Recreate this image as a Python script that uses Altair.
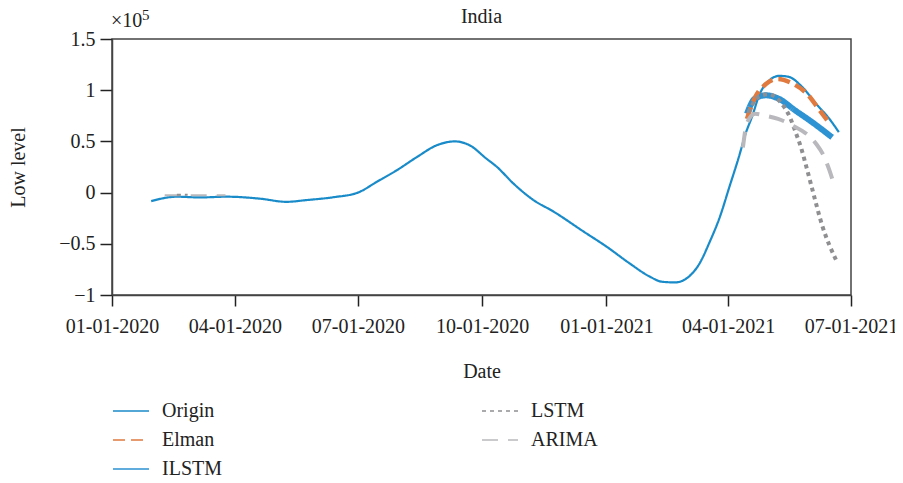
import altair as alt
import pandas as pd

# ---- data (values in raw units; axis shows ×10^5) ----
origin_dates = ["2020-01-30", "2020-02-18", "2020-03-06", "2020-03-26", "2020-04-20",
                "2020-05-09", "2020-05-24", "2020-06-13", "2020-07-01", "2020-07-15",
                "2020-07-30", "2020-08-14", "2020-08-28", "2020-09-11", "2020-09-22",
                "2020-10-04", "2020-10-12", "2020-10-24", "2020-11-08", "2020-11-23",
                "2020-12-15", "2021-01-01", "2021-01-18", "2021-02-02", "2021-02-11",
                "2021-02-21", "2021-03-03", "2021-03-11", "2021-03-18", "2021-03-26",
                "2021-04-02", "2021-04-09", "2021-04-14", "2021-04-19", "2021-04-24",
                "2021-05-01", "2021-05-09", "2021-05-16", "2021-05-26", "2021-06-05",
                "2021-06-15", "2021-06-22"]
origin_vals = [-8300, -4000, -4700, -4000, -6000,
               -9000, -7300, -4500, 0, 10500,
               22000, 35000, 46000, 50000, 46000,
               33300, 25000, 9000, -7300, -18700,
               -38000, -52700, -69000, -82000, -87000,
               -87700, -82000, -69000, -49400, -23500,
               5600, 34800, 57600, 75000, 95000,
               109000, 114000, 113000, 103000, 87000,
               72000, 59000]

elman_dates = ["2021-04-15", "2021-04-21", "2021-04-29", "2021-05-08", "2021-05-18",
               "2021-05-29", "2021-06-08", "2021-06-16"]
elman_vals = [72000, 93000, 106000, 111000, 107000, 97000, 80000, 66000]

ilstm_dates = ["2021-04-15", "2021-04-21", "2021-04-29", "2021-05-08", "2021-05-21",
               "2021-06-02", "2021-06-17"]
ilstm_vals = [77000, 92000, 95000, 92000, 80000, 69000, 54000]

lstm_early_dates = ["2020-02-18", "2020-02-26"]
lstm_early_vals = [-2000, -2000]
lstm_dates = ["2021-04-16", "2021-04-24", "2021-05-01", "2021-05-10", "2021-05-17",
              "2021-05-21", "2021-05-25", "2021-05-29", "2021-06-02", "2021-06-10",
              "2021-06-20"]
lstm_vals = [78000, 94000, 96000, 88000, 73000, 59000, 44000, 25000, 5000, -33500, -66000]

arima_early_dates = ["2020-02-09", "2020-03-25"]
arima_early_vals = [-2500, -2500]
arima_dates = ["2021-04-12", "2021-04-15", "2021-04-21", "2021-04-29", "2021-05-08",
               "2021-05-18", "2021-06-05", "2021-06-10", "2021-06-15", "2021-06-19"]
arima_vals = [44000, 68000, 77000, 75000, 72000, 66000, 48000, 38000, 22000, 5000]

series_order = ["Origin", "Elman", "ILSTM", "LSTM", "ARIMA"]
series_colors = ["#1a8bc9", "#e07a3f", "#2d93d2", "#8f8f92", "#b9b9bd"]
series_dash = [[1, 0], [12, 6], [1, 0], [4, 4], [16, 10]]

def frame(name, parts):
    rows = []
    for seg, (dates, vals) in enumerate(parts):
        for d, v in zip(dates, vals):
            rows.append({"name": name, "seg": f"{name}-{seg}", "date": d, "value": v})
    return pd.DataFrame(rows)

x_ticks = [alt.DateTime(year=y, month=m, date=1, utc=True)
           for (y, m) in [(2020, 1), (2020, 4), (2020, 7), (2020, 10), (2021, 1), (2021, 4), (2021, 7)]]
y_ticks = [-100000, -50000, 0, 50000, 100000, 150000]

FONT = "Liberation Serif"
PLOT_W, PLOT_H = 739, 256

legend_cfg = dict(title=None, orient="none", legendX=0, legendY=353,
                  columns=2, columnPadding=257, rowPadding=-10,
                  symbolType="stroke", symbolSize=1296,
                  symbolStrokeWidth=1.5, labelOffset=12,
                  labelFontSize=20, labelFont=FONT, labelColor="#222")

def enc():
    return dict(
        x=alt.X("date:T",
                scale=alt.Scale(type="utc",
                                domain=[alt.DateTime(year=2020, month=1, date=1, utc=True),
                                        alt.DateTime(year=2021, month=7, date=1, utc=True)]),
                axis=alt.Axis(values=x_ticks, labelExpr="utcFormat(datum.value, '%m-%d-%Y')",
                              title="Date", tickSize=11, labelPadding=10, titlePadding=25,
                              grid=False, labelFlush=False, labelOverlap=False)),
        y=alt.Y("value:Q",
                scale=alt.Scale(domain=[-100000, 150000], nice=False, zero=False),
                axis=alt.Axis(values=y_ticks,
                              labelExpr="replace(format(datum.value / 100000, ''), '-', '−')",
                              title="Low level", tickSize=12, labelPadding=5, titlePadding=30,
                              grid=False)),
        color=alt.Color("name:N", scale=alt.Scale(domain=series_order, range=series_colors),
                        legend=alt.Legend(**legend_cfg)),
        strokeDash=alt.StrokeDash("name:N", scale=alt.Scale(domain=series_order, range=series_dash),
                                  legend=alt.Legend(**legend_cfg)),
        detail="seg:N",
    )

def series_layer(df, width):
    return alt.Chart(df).mark_line(interpolate="monotone", strokeWidth=width).encode(**enc())

origin_l = series_layer(frame("Origin", [(origin_dates, origin_vals)]), 2.2)
ilstm_l = series_layer(frame("ILSTM", [(ilstm_dates, ilstm_vals)]), 6)
elman_l = series_layer(frame("Elman", [(elman_dates, elman_vals)]), 4.5)
lstm_early_l = series_layer(frame("LSTM", [(lstm_early_dates, lstm_early_vals)]), 2)
lstm_l = series_layer(frame("LSTM", [(lstm_dates, lstm_vals)]), 4)
arima_early_l = series_layer(frame("ARIMA", [(arima_early_dates, arima_early_vals)]), 2)
arima_l = series_layer(frame("ARIMA", [(arima_dates, arima_vals)]), 4)

title_txt = alt.Chart(pd.DataFrame({"t": ["India"]})).mark_text(
    align="center", baseline="alphabetic", font=FONT, fontSize=20, color="#222"
).encode(x=alt.value(PLOT_W / 2), y=alt.value(-16), text="t:N")
exp_base = alt.Chart(pd.DataFrame({"t": ["×10"]})).mark_text(
    align="left", baseline="alphabetic", font=FONT, fontSize=20, color="#222"
).encode(x=alt.value(-1), y=alt.value(-12), text="t:N")
exp_sup = alt.Chart(pd.DataFrame({"t": ["5"]})).mark_text(
    align="left", baseline="alphabetic", font=FONT, fontSize=15, color="#222"
).encode(x=alt.value(30), y=alt.value(-19), text="t:N")

chart = alt.layer(origin_l, arima_early_l, lstm_early_l, ilstm_l, elman_l, lstm_l, arima_l,
                  title_txt, exp_base, exp_sup).properties(
    width=PLOT_W, height=PLOT_H,
    autosize=alt.AutoSizeParams(type="none"),
    padding={"left": 104, "top": 31, "right": 44, "bottom": 182},
).configure_view(stroke="#444", strokeWidth=1.5).configure_axis(
    labelFont=FONT, titleFont=FONT, labelFontSize=20, titleFontSize=20,
    titleFontWeight="normal", labelColor="#222", titleColor="#222",
    domainColor="#444", domainWidth=1.5, tickColor="#222", tickWidth=1.5,
)

chart.save("out.html", embed_options={"renderer": "svg", "actions": False})
